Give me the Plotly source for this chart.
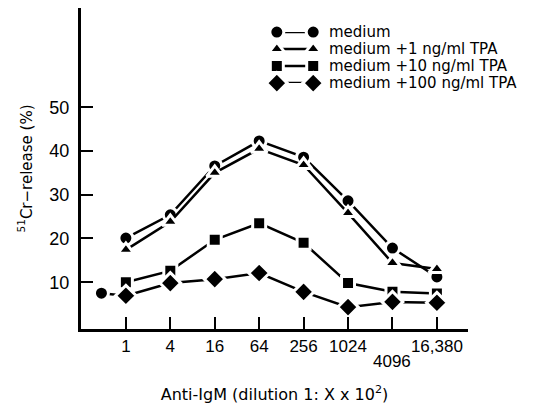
import plotly.graph_objects as go

# ---- data ----
dilution_labels = ["1", "4", "16", "64", "256", "1024", "4096", "16,380"]
x_index = [0, 1, 2, 3, 4, 5, 6, 7]
control_x = -0.55
control_value = 7.5

medium = [20.1, 25.4, 36.6, 42.3, 38.6, 28.6, 17.8, 11.2]
tpa_1 = [17.4, 23.8, 35.0, 40.5, 36.8, 25.8, 14.4, 13.0]
tpa_10 = [10.0, 12.6, 19.7, 23.5, 19.0, 9.8, 7.8, 7.4]
tpa_100 = [6.9, 9.8, 10.7, 12.1, 7.8, 4.3, 5.5, 5.3]

series_names = ["medium", "medium +1 ng/ml TPA", "medium +10 ng/ml TPA", "medium +100 ng/ml TPA"]
series_values = [medium, tpa_1, tpa_10, tpa_100]
series_symbols = ["circle", "triangle-up", "square", "diamond"]
series_sizes = [14, 14, 13, 16]

FONT = "DejaVu Sans"
TICKFONT = "Liberation Sans"
fig = go.Figure()

marker_line = dict(color="white", width=3)

# control point connected to the first diamond
fig.add_trace(go.Scatter(
    x=[control_x, x_index[0]], y=[control_value, tpa_100[0]],
    mode="lines", line=dict(color="black", width=2.5),
    showlegend=False, hoverinfo="skip"))

for name, vals, sym, sz in zip(series_names, series_values, series_symbols, series_sizes):
    fig.add_trace(go.Scatter(
        x=x_index, y=vals, mode="lines+markers", name=name,
        line=dict(color="black", width=2.5),
        marker=dict(symbol=sym, size=sz, color="black", line=marker_line),
        showlegend=False, cliponaxis=False))

fig.add_trace(go.Scatter(
    x=[control_x], y=[control_value], mode="markers",
    marker=dict(symbol="circle", size=14, color="black", line=marker_line),
    showlegend=False, cliponaxis=False))

# custom legend (two markers joined by a dash)
legend_rows_y = [0.925, 0.872, 0.819, 0.766]
for k, (name, sym, sz) in enumerate(zip(series_names, series_symbols, series_sizes)):
    fig.add_trace(go.Scatter(
        x=[0, 1], y=[k, k], mode="lines+markers", xaxis="x2", yaxis="y2",
        line=dict(color="black", width=2.5),
        marker=dict(symbol=sym, size=sz, color="black", line=marker_line),
        showlegend=False, cliponaxis=False, hoverinfo="skip"))
    fig.add_annotation(x=0.638, y=legend_rows_y[k], xref="paper", yref="paper",
                       text=name, showarrow=False, xanchor="left", yanchor="middle",
                       borderpad=0,
                       font=dict(family=FONT, size=15, color="black"))

# staggered 4096 label
fig.add_annotation(x=x_index[6], y=-0.10, xref="x", yref="paper",
                   text=dilution_labels[6], showarrow=False,
                   xanchor="center", yanchor="middle",
                   font=dict(family=TICKFONT, size=17, color="black"))

ticktext = [t if i != 6 else "" for i, t in enumerate(dilution_labels)]

fig.update_layout(
    width=540, height=398,
    margin=dict(l=73, r=80, t=0, b=77),
    paper_bgcolor="white", plot_bgcolor="white",
    font=dict(family=FONT, size=16, color="black"),
    xaxis=dict(
        range=[-1.01, 7.70], showgrid=False, zeroline=False,
        showline=True, linecolor="black", linewidth=3,
        tickmode="array", tickvals=x_index, ticktext=ticktext,
        ticks="inside", ticklen=12, tickwidth=2, tickcolor="black",
        tickfont=dict(family=TICKFONT, size=17),
        title=dict(text="Anti-IgM (dilution 1: X x 10<sup>2</sup>)",
                   font=dict(family=FONT, size=16), standoff=34),
    ),
    yaxis=dict(
        range=[-0.7, 72.7], showgrid=False, zeroline=False,
        showline=True, linecolor="black", linewidth=3,
        tickmode="array", tickvals=[10, 20, 30, 40, 50],
        ticks="inside", ticklen=12, tickwidth=2, tickcolor="black",
        tickfont=dict(family=TICKFONT, size=18), ticklabelstandoff=5,
        title=dict(text="<sup>51</sup>Cr\u2212release (%)",
                   font=dict(family=FONT, size=15), standoff=14),
    ),
    xaxis2=dict(domain=[0.506, 0.600], range=[0, 1], visible=False,
                anchor="y2", fixedrange=True),
    yaxis2=dict(domain=[0.766, 0.925], range=[3, 0], visible=False,
                anchor="x2", fixedrange=True),
)

fig.write_html("out.html")
